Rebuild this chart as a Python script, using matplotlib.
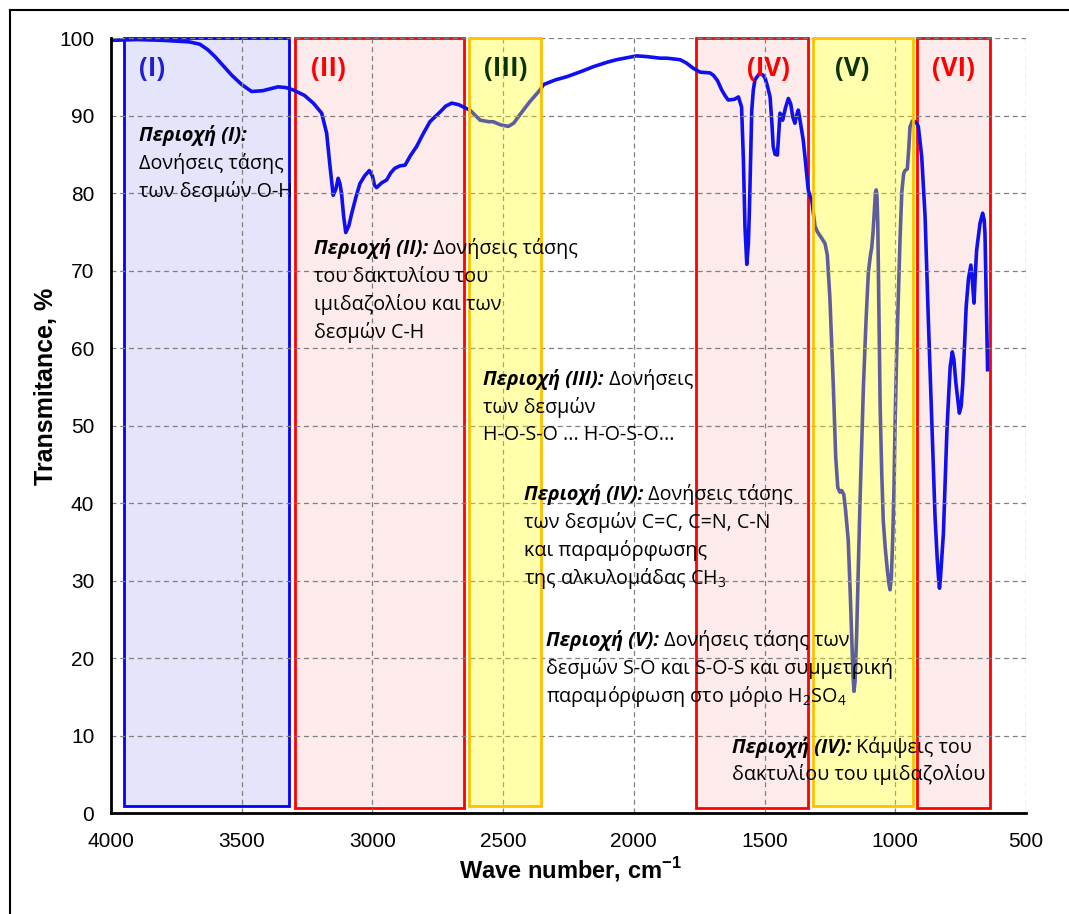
import matplotlib
matplotlib.use("Agg")
import matplotlib.pyplot as plt
from matplotlib.patches import Rectangle
from matplotlib.transforms import offset_copy
from matplotlib.lines import Line2D

plt.rcParams['mathtext.fontset'] = 'custom'
plt.rcParams['mathtext.rm'] = 'Open Sans'
plt.rcParams['mathtext.bf'] = 'Liberation Sans:bold'

# IR spectrum
wn = [4000, 3900, 3800, 3700, 3660, 3630, 3602, 3570, 3538, 3500, 3462, 3420, 3361, 3330,
      3303, 3260, 3226, 3194, 3175, 3162, 3150, 3140, 3131, 3124, 3118, 3110, 3102, 3090,
      3079, 3062, 3048, 3030, 3012, 3000, 2992, 2984, 2965, 2945, 2930, 2914, 2895, 2875,
      2855, 2831, 2805, 2780, 2740, 2720, 2697, 2670, 2646, 2627, 2588, 2555, 2538, 2510,
      2480, 2460, 2436, 2400, 2359, 2345, 2300, 2257, 2200, 2155, 2100, 2066, 2020, 1989,
      1950, 1900, 1874, 1823, 1800, 1773, 1747, 1709, 1696, 1680, 1664, 1650, 1639, 1615,
      1600, 1588, 1581, 1575, 1568, 1562, 1558, 1553, 1549, 1543, 1537, 1520, 1505, 1498,
      1489, 1479, 1472, 1467, 1460, 1451, 1446, 1441, 1436, 1431, 1420, 1409, 1400, 1392,
      1384, 1378, 1371, 1362, 1352, 1345, 1333, 1326, 1320, 1307, 1298, 1288, 1269, 1260,
      1250, 1245, 1237, 1228, 1220, 1212, 1205, 1197, 1190, 1180, 1172, 1167, 1162, 1158,
      1154, 1148, 1141, 1135, 1128, 1122, 1112, 1103, 1095, 1090, 1085, 1081, 1076, 1073,
      1070, 1067, 1063, 1058, 1052, 1046, 1038, 1030, 1024, 1020, 1015, 1010, 1005, 1001,
      995, 988, 982, 975, 968, 963, 954, 948, 944, 935, 925, 918, 912, 905, 899, 886, 874,
      861, 848, 840, 835, 831, 827, 816, 803, 795, 790, 782, 776, 768, 755, 748, 742, 735,
      729, 720, 711, 706, 699, 694, 689, 676, 666, 660, 657, 652, 647]
tr = [99.7, 99.8, 99.7, 99.5, 99.2, 98.5, 97.6, 96.4, 95.2, 94.0, 93.1, 93.2, 93.7, 93.6,
      93.3, 92.6, 91.6, 90.3, 87.7, 83.4, 79.7, 80.5, 81.9, 81.2, 79.9, 77.0, 74.9, 75.8,
      77.4, 79.6, 81.2, 82.2, 82.9, 82.2, 81.0, 80.7, 81.3, 81.7, 82.6, 83.2, 83.5, 83.6,
      84.8, 86.0, 87.7, 89.2, 90.5, 91.2, 91.6, 91.4, 91.0, 90.7, 89.4, 89.2, 89.2, 88.8,
      88.6, 89.0, 90.1, 91.7, 93.3, 94.0, 94.6, 95.0, 95.7, 96.3, 96.9, 97.2, 97.5, 97.7,
      97.6, 97.4, 97.4, 97.2, 96.8, 96.1, 95.6, 95.5, 95.2, 94.5, 93.3, 92.5, 92.0, 92.1,
      92.4, 91.1, 84.3, 75.6, 70.8, 73.5, 77.8, 85.0, 90.7, 93.3, 94.6, 95.4, 95.2, 94.8,
      93.8, 92.4, 89.0, 86.0, 85.0, 84.9, 87.5, 90.3, 90.0, 89.4, 91.0, 92.2, 91.5, 89.8,
      89.0, 90.0, 90.7, 88.9, 86.8, 84.5, 80.4, 79.6, 79.2, 75.7, 75.0, 74.5, 73.5, 72.0,
      66.3, 62.0, 55.0, 46.0, 42.0, 41.4, 41.6, 41.1, 39.0, 35.2, 28.0, 22.9, 18.0, 15.7,
      17.0, 22.9, 32.0, 40.2, 48.0, 55.0, 63.5, 69.8, 72.0, 73.0, 75.0, 77.2, 80.0, 80.4,
      79.5, 76.0, 66.0, 52.5, 44.0, 37.7, 34.0, 31.2, 29.5, 28.8, 30.5, 35.2, 42.0, 50.0,
      59.0, 67.3, 74.0, 80.2, 82.5, 82.9, 83.1, 86.0, 88.5, 89.3, 89.2, 89.0, 88.6, 86.5,
      84.7, 76.9, 64.0, 51.1, 38.2, 33.0, 30.5, 29.0, 30.5, 36.1, 49.0, 54.5, 57.6, 59.5,
      58.5, 55.4, 51.6, 52.5, 55.4, 60.5, 65.3, 69.0, 70.7, 69.0, 65.8, 69.5, 72.6, 76.1,
      77.4, 76.5, 74.8, 66.0, 57.2]

# regions
reg_names = ['(I)', '(II)', '(III)', '(IV)', '(V)', '(VI)']
reg_start = [3950, 3296, 2630, 1762, 1314, 917]
reg_end = [3319, 2650, 2355, 1333, 932, 637]
reg_kind = ['blue', 'pink', 'yellow', 'pink', 'yellow', 'pink']
reg_label_x = [3843, 3170, 2489, 1487, 1166, 779]
reg_label_col = ['#1f1fd0', '#ff0000', '#0a3300', '#ff0000', '#0a3300', '#ff0000']

fig = plt.figure(figsize=(10.69, 9.14), dpi=100)
ax = fig.add_axes([0.1038, 0.1105, 0.856, 0.8479])

for x0, x1, kind in zip(reg_start, reg_end, reg_kind):
    if kind == 'blue':
        r = Rectangle((x0, 0.9), x1 - x0, 99.1, facecolor='#e4e4fa', edgecolor='#0000ff',
                      lw=2, zorder=1, clip_on=False)
    elif kind == 'pink':
        r = Rectangle((x0, 0.7), x1 - x0, 99.3, facecolor='#fdeaea', edgecolor='#ff0000',
                      lw=2, zorder=1, clip_on=False)
    else:
        r = Rectangle((x0, 0.9), x1 - x0, 99.1, facecolor=(1, 1, 0, 0.33), edgecolor='#ffc000',
                      lw=2, zorder=3, clip_on=False)
    ax.add_patch(r)

ax.plot(wn, tr, color='#1010ee', lw=2.6, zorder=2, solid_joinstyle='round')

for name, lx, c in zip(reg_names, reg_label_x, reg_label_col):
    ax.text(lx, 96.1, name, color=c, fontsize=18.5, fontweight='bold', family=['Open Sans', 'DejaVu Sans'],
            ha='center', va='center', zorder=5)

ax.set_xlim(4000, 500)
ax.set_ylim(0, 100)
ax.set_xticks(range(4000, 499, -500))
ax.set_yticks(range(0, 101, 10))
ax.grid(True, color='#808080', ls=(0, (4, 3)), lw=0.9)
ax.set_axisbelow(False)
for g in ax.get_xgridlines() + ax.get_ygridlines():
    g.set_zorder(1.5)
for s in ['top', 'right']:
    ax.spines[s].set_visible(False)
for s in ['left', 'bottom']:
    ax.spines[s].set_linewidth(2)
    ax.spines[s].set_zorder(6)
ax.tick_params(length=0, labelsize=15)
ax.tick_params(axis='x', pad=14)
ax.tick_params(axis='y', pad=12)
for lab in ax.get_xticklabels() + ax.get_yticklabels():
    lab.set_family('Liberation Sans')
ax.set_ylabel('Transmitance, %', fontsize=18, fontweight='bold', family='Liberation Sans')
ax.set_xlabel('Wave number, cm$^{\\mathbf{-1}}$', fontsize=17, fontweight='bold',
              family='Liberation Sans')
ax.yaxis.set_label_coords(-0.058, 0.55)
ax.xaxis.set_label_coords(0.502, -0.054)

renderer = fig.canvas.get_renderer()
tfont = ['Open Sans', 'DejaVu Sans']
fs = 14.2


def note(x, y, bold, rest=''):
    t = ax.text(x, y, bold, fontsize=fs, fontweight='bold', fontstyle='italic',
                family=tfont, va='baseline', zorder=5)
    if rest:
        w = t.get_window_extent(renderer).width
        ax.text(x, y, rest, fontsize=fs, family=tfont, va='baseline', zorder=5,
                transform=offset_copy(ax.transData, fig=fig, x=w, y=0, units='dots'))


def plain(x, y, s):
    ax.text(x, y, s, fontsize=fs, family=tfont, va='baseline', zorder=5)


note(3893, 86.7, 'Περιοχή (I):')
plain(3893, 83.1, 'Δονήσεις τάσης')
plain(3893, 79.5, 'των δεσμών Ο-Η')

note(3223, 72.1, 'Περιοχή (II):', ' Δονήσεις τάσης')
plain(3223, 68.5, 'του δακτυλίου του')
plain(3223, 64.9, 'ιμιδαζολίου και των')
plain(3223, 61.3, 'δεσμών C-H')

note(2577, 55.2, 'Περιοχή (III):', ' Δονήσεις')
plain(2577, 51.6, 'των δεσμών')
plain(2577, 48.1, 'H-O-S-O ... H-O-S-O...')

note(2420, 40.4, 'Περιοχή (IV):', ' Δονήσεις τάσης')
plain(2420, 36.8, 'των δεσμών C=C, C=N, C-N')
plain(2420, 33.2, 'και παραμόρφωσης')
plain(2420, 29.5, 'της αλκυλομάδας CH$_3$')

note(2336, 21.5, 'Περιοχή (V):', ' Δονήσεις τάσης των')
plain(2336, 17.9, 'δεσμών S-O και S-O-S και συμμετρική')
plain(2336, 14.3, 'παραμόρφωση στο μόριο H$_2$SO$_4$')

note(1625, 7.7, 'Περιοχή (IV):', ' Κάμψεις του')
plain(1625, 4.3, 'δακτυλίου του ιμιδαζολίου')

# outer frame (left and top edges visible)
fig.add_artist(Line2D([10 / 1069, 10 / 1069], [0, 1 - 10 / 914], color='black', lw=1.5,
                      transform=fig.transFigure))
fig.add_artist(Line2D([10 / 1069, 1], [1 - 10 / 914, 1 - 10 / 914], color='black', lw=1.5,
                      transform=fig.transFigure))

fig.savefig('out.png', dpi=100)
